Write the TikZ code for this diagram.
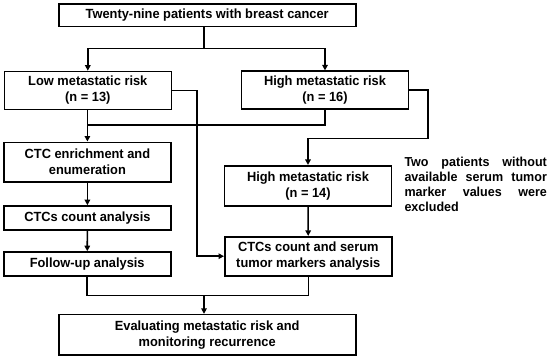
\documentclass[tikz,border=0pt]{standalone}
\usepackage{fontspec}
\setmainfont[FakeStretch=0.965]{Liberation Sans}
\usetikzlibrary{arrows.meta}
\begin{document}
\begin{tikzpicture}[x=1pt,y=-1pt,
  every node/.style={font=\fontsize{13.3}{16}\selectfont\bfseries},
  box/.style={draw,line width=1.6pt,inner sep=0pt,align=center,minimum width=167pt},
  wide/.style={box,minimum width=297pt},
  conn/.style={line width=1.6pt},
  arr/.style={conn,-{Triangle[length=5.5pt,width=5.5pt]}}]
\useasboundingbox (0,0) rectangle (550,357);
\node[wide,minimum height=22.5pt] (top) at (207.2,15.3) {Twenty-nine patients with breast cancer};
\node[box,minimum height=38pt] (low) at (87.8,90.5) {Low metastatic risk\\(n = 13)};
\node[box,minimum height=38pt] (high) at (325,90.2) {High metastatic risk\\(n = 16)};
\node[box,minimum height=39.4pt] (enr) at (87.4,162) {CTC enrichment and\\enumeration};
\node[box,minimum height=24pt] (count) at (87.4,218) {CTCs count analysis};
\node[box,minimum height=24pt] (follow) at (87.2,264) {Follow-up analysis};
\node[box,minimum height=40.3pt] (high14) at (308,185.9) {High metastatic risk\\(n = 14)};
\node[box,minimum height=39pt] (serum) at (308.3,256.2) {CTCs count and serum\\tumor markers analysis};
\node[wide,minimum height=40.3pt] (bottom) at (207.2,334.8) {Evaluating metastatic risk and\\monitoring recurrence};
\node[anchor=north west,inner sep=0pt,text width=142.4pt,align=justify,
  font=\fontsize{13}{14.8}\selectfont\bfseries] (note) at (404.3,157)
  {Two patients without available serum tumor marker values were excluded};
% connectors
\coordinate (j1) at (204,48.3);
\draw[conn] (top.south -| j1) -- (j1);
\draw[arr] (j1) -| (low.north);
\draw[arr] (j1) -| (high.north);
\coordinate (c1) at (196.7,256.2);
\draw[arr] (low.east) -| (c1) -- (serum.west);
\coordinate (c2) at (428,138.3);
\draw[arr] (high.east) -| (c2) -| (high14.north);
\coordinate (m1) at (87.4,125);
\draw[conn] (low.south -| m1) -- (m1);
\draw[conn] (high.south) |- (m1);
\draw[arr] (m1) -- (enr.north);
\draw[arr] (enr) -- (count);
\draw[arr] (count) -- (follow);
\draw[arr] (high14) -- (serum);
\coordinate (m2) at (204,295.3);
\draw[conn] (follow.south) |- (m2);
\draw[conn] (serum.south) |- (m2);
\draw[arr] (m2) -- (bottom.north -| m2);
\end{tikzpicture}
\end{document}
